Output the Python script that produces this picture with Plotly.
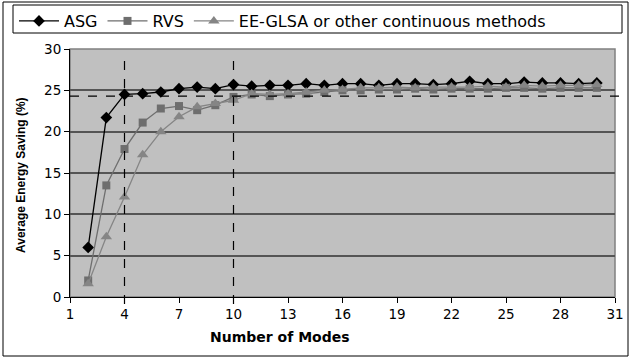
import plotly.graph_objects as go

modes = list(range(2, 31))
asg = [6.0, 21.7, 24.5, 24.6, 24.8, 25.2, 25.4, 25.2, 25.7, 25.5, 25.6, 25.6, 25.8, 25.6, 25.8,
       25.8, 25.6, 25.8, 25.8, 25.7, 25.8, 26.1, 25.8, 25.8, 26.0, 25.9, 25.9, 25.8, 25.9]
rvs = [2.0, 13.5, 17.9, 21.1, 22.8, 23.1, 22.6, 23.2, 24.2, 24.5, 24.3, 24.5, 24.6, 24.8, 25.0,
       25.0, 25.1, 25.1, 25.2, 25.1, 25.2, 25.2, 25.2, 25.3, 25.3, 25.2, 25.3, 25.3, 25.3]
eeglsa = [1.6, 7.3, 12.1, 17.2, 20.0, 21.8, 23.0, 23.4, 23.8, 24.6, 24.5, 24.6, 24.8, 25.0, 25.1,
          25.3, 25.3, 25.4, 25.3, 25.4, 25.4, 25.4, 25.5, 25.4, 25.6, 25.5, 25.6, 25.6, 25.7]
x_ticks = [1, 4, 7, 10, 13, 16, 19, 22, 25, 28, 31]
y_ticks = [0, 5, 10, 15, 20, 25, 30]
ref_modes = [4, 10]
ref_saving = 24.3
x_title = "Number of Modes"
y_title = "Average Energy Saving (%)"

W, H = 630, 358
L, R, T, B = 70, 15, 49, 61
pw, ph = W - L - R, H - T - B

def px_x(p):
    return (p - L) / pw

def px_y(p):
    return (H - B - p) / ph

font = "DejaVu Sans"

fig = go.Figure()
fig.add_trace(go.Scatter(x=modes, y=asg, name="ASG", mode="lines+markers",
                         line=dict(color="#000000", width=1.3),
                         marker=dict(symbol="diamond", size=9, color="#000000")))
fig.add_trace(go.Scatter(x=modes, y=rvs, name="RVS", mode="lines+markers",
                         line=dict(color="#6e6e6e", width=1.3),
                         marker=dict(symbol="square", size=8, color="#6e6e6e")))
fig.add_trace(go.Scatter(x=modes, y=eeglsa, name="EE-GLSA or other continuous methods",
                         mode="lines+markers",
                         line=dict(color="#858585", width=1.3),
                         marker=dict(symbol="triangle-up", size=10, color="#858585")))

shapes = []
# outer chart border
shapes.append(dict(type="rect", xref="paper", yref="paper",
                   x0=px_x(3), x1=px_x(W - 2), y0=px_y(H - 2), y1=px_y(2),
                   line=dict(color="#000000", width=1), layer="below"))
# legend box
shapes.append(dict(type="rect", xref="paper", yref="paper",
                   x0=px_x(13), x1=px_x(622), y0=px_y(33), y1=px_y(5),
                   line=dict(color="#000000", width=1), layer="below"))
# plot area border
shapes.append(dict(type="rect", xref="paper", yref="paper", x0=0, x1=1, y0=0, y1=1,
                   line=dict(color="#808080", width=1.5), layer="below"))
for m in ref_modes:
    shapes.append(dict(type="line", xref="x", yref="paper", x0=m, x1=m,
                       y0=px_y(304), y1=px_y(57),
                       line=dict(color="#000000", width=1.2, dash="dash")))
shapes.append(dict(type="line", xref="paper", yref="y", x0=0, x1=px_x(626),
                   y0=ref_saving, y1=ref_saving,
                   line=dict(color="#000000", width=1.2, dash="dash")))

annotations = [
    dict(text="<b>" + x_title + "</b>", xref="paper", yref="paper",
         x=px_x(280), y=px_y(337), xanchor="center", yanchor="middle",
         showarrow=False, font=dict(size=14, family=font)),
    dict(text="<b>" + y_title + "</b>", xref="paper", yref="paper",
         x=px_x(21), y=px_y(175), xanchor="center", yanchor="middle", textangle=-90,
         showarrow=False,
         font=dict(size=12, family="Liberation Sans Narrow, Liberation Sans")),
]

fig.update_layout(
    width=W, height=H,
    margin=dict(l=L, r=R, t=T, b=B, autoexpand=False),
    paper_bgcolor="#ffffff", plot_bgcolor="#c0c0c0",
    font=dict(family=font, size=13, color="#000000"),
    showlegend=True,
    legend=dict(orientation="h", xref="container", yref="container",
                x=14 / W, y=1 - 4 / H, xanchor="left", yanchor="top",
                bgcolor="rgba(0,0,0,0)", font=dict(size=16, family=font),
                itemwidth=40, tracegroupgap=0),
    shapes=shapes,
    annotations=annotations,
)
fig.update_xaxes(range=[1, 31], tickvals=x_ticks, ticktext=[str(v) for v in x_ticks],
                 showgrid=False, zeroline=False, showline=True, linecolor="#000000",
                 linewidth=1, ticks="outside", ticklen=5, tickcolor="#000000",
                 tickfont=dict(size=13.5, family=font))
fig.update_yaxes(range=[0, 30], tickvals=y_ticks, showgrid=True, gridcolor="#555555",
                 gridwidth=1.5, zeroline=False, showline=True, linecolor="#000000",
                 linewidth=1, ticks="outside", ticklen=5, tickcolor="#000000",
                 tickfont=dict(size=13.5, family=font))

fig.write_html("out.html", config={"displayModeBar": False},
               post_script="document.body.style.margin='0px';")
